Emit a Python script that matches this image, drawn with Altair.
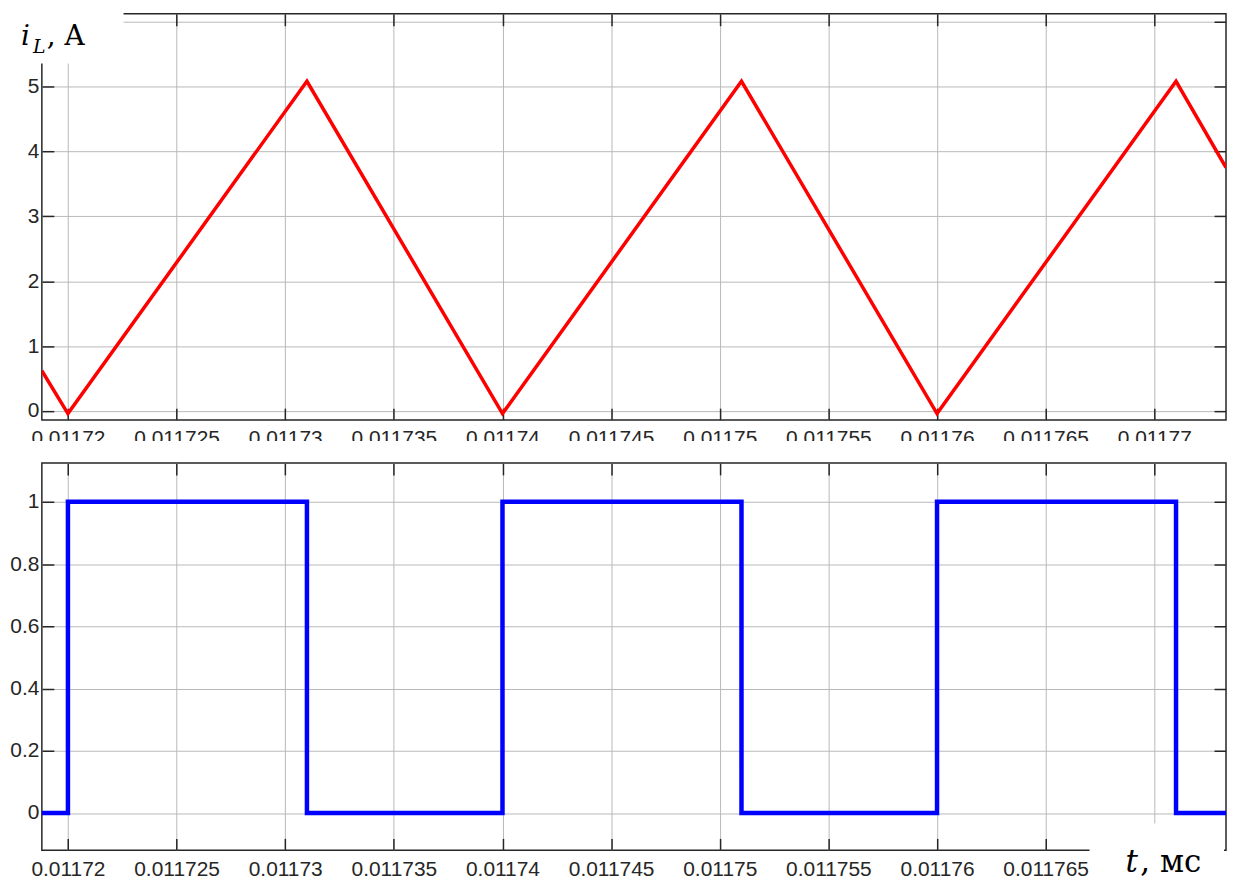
import altair as alt
import pandas as pd

# ---- data ----
T = [0.0117188, 0.01172, 0.011731, 0.01174, 0.011751, 0.01176, 0.011771, 0.0117733]
I_L = [0.62, -0.04, 5.08, -0.04, 5.08, -0.04, 5.08, 3.75]
GATE = [0, 1, 0, 1, 0, 1, 0, 0]

T_TICKS = [0.01172, 0.011725, 0.01173, 0.011735, 0.01174, 0.011745,
           0.01175, 0.011755, 0.01176, 0.011765, 0.01177]
I_TICKS = [0, 1, 2, 3, 4, 5, 6]
G_TICKS = [0, 0.2, 0.4, 0.6, 0.8, 1]
T_DOMAIN = [0.0117188, 0.0117733]
I_DOMAIN = [-0.14, 6.12]
G_DOMAIN = [-0.12, 1.125]

Y_TITLE = ["i", "L", ", A"]
X_TITLE = ["t", ", мс"]

# ---- style ----
W = 1189
H1 = 408
H2 = 389
EXT = 33
INK = "#262626"
GRID = "#b8b8b8"
SANS = "Liberation Sans"
SERIF = "DejaVu Serif"

df = pd.DataFrame({"t": T, "i": I_L, "g": GATE})


def main_axis(orient, values, fmt, pad, expr=None):
    kw = {}
    if expr:
        kw["labelExpr"] = expr
    return alt.Axis(orient=orient, values=values, format=fmt, grid=True,
                    gridColor=GRID, gridWidth=1, ticks=False, domain=False,
                    labelFont=SANS, labelFontSize=21, labelColor=INK,
                    labelPadding=pad, labelOverlap=False, labelFlush=False,
                    minExtent=EXT if orient == "left" else 0, title=None, **kw)


def tick_axis(orient, values, offset):
    return alt.Axis(orient=orient, values=values, offset=offset, labels=False,
                    domain=False, grid=False, ticks=True, tickSize=12,
                    tickColor=INK, tickWidth=1.5, title=None)


def panel(field, ydomain, yticks, H, color, sw, interp, xpad, xexpr=None):
    xs = alt.Scale(domain=T_DOMAIN, nice=False, zero=False)
    ys = alt.Scale(domain=ydomain, nice=False, zero=False)
    base = alt.Chart(df)
    t1 = base.mark_line(strokeOpacity=0, interpolate=interp).encode(
        x=alt.X("t:Q", scale=xs, axis=tick_axis("top", T_TICKS, -H)),
        y=alt.Y(f"{field}:Q", scale=ys, axis=tick_axis("right", yticks, -W)))
    t2 = base.mark_line(strokeOpacity=0, interpolate=interp).encode(
        x=alt.X("t:Q", scale=xs, axis=tick_axis("bottom", T_TICKS, -H)),
        y=alt.Y(f"{field}:Q", scale=ys, axis=tick_axis("left", yticks, -W)))
    line = base.mark_line(color=color, strokeWidth=sw, interpolate=interp, clip=True).encode(
        x=alt.X("t:Q", scale=xs, axis=main_axis("bottom", T_TICKS, ".6~g", xpad, xexpr)),
        y=alt.Y(f"{field}:Q", scale=ys, axis=main_axis("left", yticks, "~g", 3)))
    return t1, t2, line


one = alt.Data(values=[{}])


def mask(x, x2, y, y2):
    return alt.Chart(one).mark_rect(color="white").encode(
        x=alt.value(x), x2=alt.value(x2), y=alt.value(y), y2=alt.value(y2))


def label(txt, x, y, size, italic):
    return alt.Chart(alt.Data(values=[{"s": txt}])).mark_text(
        font=SERIF, fontSize=size, fontStyle="italic" if italic else "normal",
        align="left", baseline="alphabetic", color="black").encode(
        x=alt.value(x), y=alt.value(y), text="s:N")


t1, t2, red = panel("i", I_DOMAIN, I_TICKS, H1, "#ff0000", 3.5, "linear", 8)
top = alt.layer(
    t1, t2, red,
    mask(-EXT, 82, -1, 50),
    mask(-EXT, W, H1 + 21, H1 + 40),
    label(Y_TITLE[0], -21, 31, 28, True),
    label(Y_TITLE[1], -9, 39, 19, True),
    label(Y_TITLE[2], 5, 31, 28, False),
).resolve_axis(x="independent", y="independent").properties(width=W, height=H1)

# the last time label of the lower panel sits under the "t, мс" caption
b1, b2, blue = panel("g", G_DOMAIN, G_TICKS, H2, "#0000ff", 4.5, "step-after", 8,
                     "datum.value > 0.011768 ? '' : datum.label")
bottom = alt.layer(
    b1, b2, blue,
    mask(1052, W - 2, 362, H2 + 29),
    label(X_TITLE[0], 1088, 411, 31, True),
    label(X_TITLE[1], 1103, 411, 31, False),
).resolve_axis(x="independent", y="independent").properties(width=W, height=H2)

chart = alt.vconcat(top, bottom, spacing=0).properties(padding=0).configure_view(
    stroke=INK, strokeWidth=1.5)

chart.save("out.html", embed_options={"renderer": "svg", "actions": False})
